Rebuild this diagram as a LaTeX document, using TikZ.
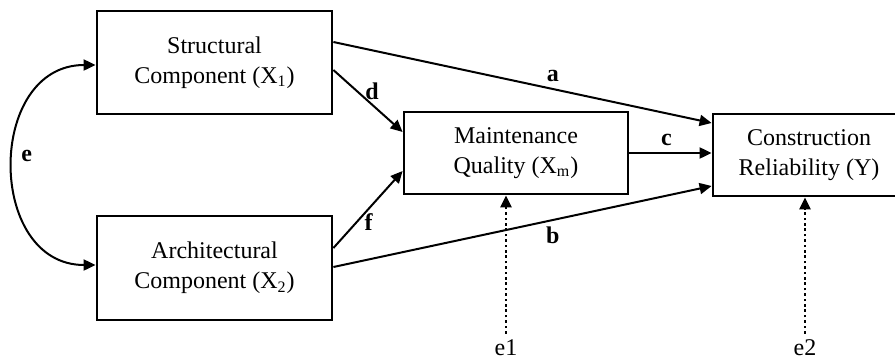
\documentclass[tikz,border=0pt]{standalone}
\usepackage{fontspec}
\setmainfont{Liberation Serif}
\usepackage{tikz}
\usetikzlibrary{arrows.meta,positioning,calc}

\tikzset{
  varbox/.style={draw, line width=1.4pt, inner sep=0pt, align=center,
    font=\fontsize{12}{15}\selectfont},
  path/.style={line width=1pt, -{Triangle[length=6pt,width=5.5pt]}},
  errpath/.style={path, line width=1.2pt, dash pattern=on 1.3pt off 1.4pt},
  coef/.style={font=\fontsize{12}{14}\selectfont\bfseries},
  errlabel/.style={font=\fontsize{12}{14}\selectfont, inner sep=3pt}
}

\begin{document}
\begin{tikzpicture}[x=0.5pt,y=-0.5pt]
  \useasboundingbox (0,0) rectangle (895,360);

  % variables
  \node[varbox, minimum width=117.5pt, minimum height=51.5pt] (struct) at (214.5,62.5)
    {Structural\\Component (X\textsubscript{1})};
  \node[varbox, minimum width=117.5pt, minimum height=52pt] (arch) at (214.5,268)
    {Architectural\\Component (X\textsubscript{2})};
  \node[varbox, minimum width=112pt, minimum height=41pt] (maint) at (516,153)
    {Maintenance\\Quality (X\textsubscript{m})};
  \node[varbox, minimum width=96pt, minimum height=41pt] (constr) at (809,155)
    {Construction\\Reliability (Y)};

  % error terms
  \node[errlabel] (e1) at (506,348) {e1};
  \node[errlabel] (e2) at (805,348) {e2};

  % paths
  \draw[path] ($(struct.east)+(0,-20.5)$) -- ($(constr.west)+(0,-32)$)
    node[coef, pos=0.58, above] {a};
  \draw[path] ($(arch.east)+(0,-1)$) -- ($(constr.west)+(0,31)$)
    node[coef, pos=0.58, below, inner sep=3pt] {b};
  \draw[path] (maint.east) -- (maint.east -| constr.west)
    node[coef, pos=0.45, above] {c};
  \draw[path] ($(struct.east)+(0,7.5)$) -- ($(maint.west)+(0,-21)$)
    node[coef, pos=0.35, right] {d};
  \draw[path] ($(arch.east)+(0,-20)$) -- ($(maint.west)+(0,18)$)
    node[coef, pos=0.34, right] {f};

  % covariance
  \draw[path, {Triangle[length=6pt,width=5.5pt]}-{Triangle[length=6pt,width=5.5pt]}]
    ($(struct.west)+(0,2.5)$) .. controls (-14,65) and (-14,265) .. ($(arch.west)+(0,-3)$)
    node[coef, pos=0.47, right] {e};

  % disturbances
  \draw[errpath] (e1.north) -- (e1.north |- maint.south);
  \draw[errpath] (e2.north) -- (e2.north |- constr.south);
\end{tikzpicture}
\end{document}
